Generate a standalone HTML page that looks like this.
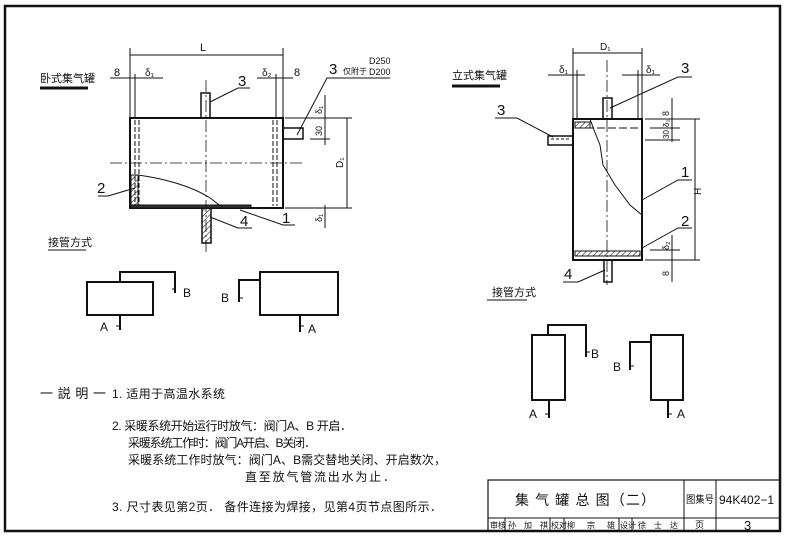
<!DOCTYPE html>
<html><head><meta charset="utf-8"><style>
html,body{margin:0;padding:0;background:#fff;}
svg{display:block;}
text{font-family:"Liberation Sans","Noto Sans CJK SC",sans-serif;fill:#111;}
</style></head><body>
<svg width="786" height="537" viewBox="0 0 786 537" xmlns="http://www.w3.org/2000/svg">
<defs>
<pattern id="h" width="4" height="4" patternUnits="userSpaceOnUse" patternTransform="rotate(45)"><line x1="0" y1="0" x2="0" y2="4" stroke="#222" stroke-width="1.2"/></pattern>
</defs>
<path d="M5 531 V6 H780 V531 Z" fill="none" stroke="#111" stroke-width="2.5"/>

<g stroke="#111" fill="none" stroke-width="1">
<line x1="130" y1="55" x2="283" y2="55"/>
<line x1="130" y1="48" x2="130" y2="118"/><line x1="283" y1="48" x2="283" y2="118"/>
<line x1="110" y1="78" x2="163" y2="78"/><line x1="257" y1="78" x2="293" y2="78"/>
<line x1="135" y1="74" x2="135" y2="118"/><line x1="276" y1="74" x2="276" y2="118"/>
<line x1="135" y1="120" x2="135" y2="206" stroke-dasharray="5,2"/><line x1="139" y1="120" x2="139" y2="206" stroke-dasharray="5,2"/>
<line x1="273" y1="120" x2="273" y2="206" stroke-dasharray="5,2"/><line x1="277" y1="120" x2="277" y2="206" stroke-dasharray="5,2"/>
<rect x="130" y="118" width="153" height="90" stroke-width="2"/>
<rect x="201" y="93" width="9" height="25" stroke-width="1.5"/>
<rect x="202" y="208" width="9" height="35" stroke-width="1.5" fill="url(#h)"/>
<rect x="283" y="128" width="20" height="11" stroke-width="1.5"/>
<rect x="131" y="175" width="7" height="33" fill="url(#h)"/>
<rect x="131" y="205" width="120" height="3" fill="#333"/>
<path d="M138 175 C160 178 190 185 210 198 C216 202 218 205 222 206"/>
<line x1="110" y1="163" x2="305" y2="163" stroke-dasharray="12,3,2,3" stroke-width="0.8"/>
<line x1="206" y1="80" x2="206" y2="255" stroke-dasharray="12,3,2,3" stroke-width="0.8"/>
<line x1="285" y1="118" x2="352" y2="118"/><line x1="285" y1="208" x2="352" y2="208"/>
<line x1="347" y1="118" x2="347" y2="208"/>
<line x1="325" y1="95" x2="325" y2="145"/><line x1="310" y1="139" x2="330" y2="139"/>
<line x1="325" y1="205" x2="325" y2="228"/>
<path d="M297 135 L327 78 H390"/>
<path d="M210 102 L238 88 H250"/>
<path d="M135 188 L108 196 H98"/>
<path d="M210 217 L238 228 H252"/>
<path d="M240 210 L283 225 H295"/>
<line x1="40" y1="88" x2="88" y2="88" stroke-width="3"/>
<line x1="48" y1="250" x2="86" y2="250" stroke-width="1"/>

<g stroke-width="2">
<rect x="87" y="282" width="66" height="33"/>
<path d="M120 282 V272 H175 V293"/>
<path d="M120 315 V330"/>
<rect x="260" y="272" width="78" height="43"/>
<path d="M260 280 H239 V302"/>
<path d="M300 315 V332"/>
</g>
<line x1="172" y1="289" x2="176" y2="289"/>
<line x1="116" y1="326" x2="120" y2="326"/>
<line x1="239" y1="298" x2="243" y2="298"/>
<line x1="300" y1="326" x2="304" y2="326"/>

<line x1="573" y1="53" x2="642" y2="53"/>
<line x1="573" y1="48" x2="573" y2="119"/><line x1="642" y1="48" x2="642" y2="119"/>
<line x1="548" y1="75" x2="585" y2="75"/><line x1="622" y1="75" x2="660" y2="75"/>
<line x1="577" y1="70" x2="577" y2="119"/><line x1="638" y1="70" x2="638" y2="119"/>
<rect x="573" y="119" width="69" height="141" stroke-width="2"/>
<rect x="603" y="98" width="9" height="21" stroke-width="1.5"/>
<rect x="604" y="260" width="8" height="22" stroke-width="1.5"/>
<rect x="548" y="136" width="25" height="9" stroke-width="1.5"/>
<line x1="551" y1="139" x2="571" y2="139" stroke-dasharray="3,2"/>
<rect x="575" y="122" width="15" height="6" fill="url(#h)"/>
<rect x="575" y="251" width="65" height="5" fill="url(#h)"/>
<line x1="575" y1="128" x2="640" y2="128" stroke-dasharray="8,3"/>
<path d="M590 119 L594 130 L600 145 L603 165 L615 185 L630 205 L642 215"/>
<line x1="607" y1="60" x2="607" y2="285" stroke-dasharray="12,3,2,3" stroke-width="0.8"/>
<line x1="645" y1="119" x2="700" y2="119"/><line x1="645" y1="260" x2="700" y2="260"/>
<line x1="650" y1="128" x2="680" y2="128"/><line x1="645" y1="140" x2="680" y2="140"/>
<line x1="650" y1="250" x2="680" y2="250"/>
<line x1="695" y1="119" x2="695" y2="260"/>
<line x1="672" y1="98" x2="672" y2="142"/><line x1="672" y1="235" x2="672" y2="282"/>
<path d="M610 108 L678 77 H692"/>
<path d="M553 137 L517 118 H495"/>
<path d="M642 200 L678 180 H692"/>
<path d="M642 248 L678 228 H692"/>
<path d="M605 270 L578 282 H563"/>
<line x1="452" y1="86" x2="500" y2="86" stroke-width="3"/>
<line x1="487" y1="300" x2="527" y2="300" stroke-width="1"/>

<g stroke-width="2">
<rect x="532" y="335" width="33" height="65"/>
<path d="M548 335 V325 H586 V357"/>
<path d="M549 400 V418"/>
<rect x="651" y="335" width="32" height="65"/>
<path d="M651 342 H630 V370"/>
<path d="M668 400 V418"/>
</g>
<line x1="586" y1="352" x2="590" y2="352"/>
<line x1="545" y1="414" x2="549" y2="414"/>
<line x1="630" y1="366" x2="634" y2="366"/>
<line x1="668" y1="414" x2="672" y2="414"/>

<rect x="488" y="480" width="292" height="51" stroke-width="1.2"/>
<line x1="488" y1="518" x2="780" y2="518"/>
<line x1="684" y1="480" x2="684" y2="531"/>
<line x1="716" y1="480" x2="716" y2="531"/>
<line x1="505" y1="518" x2="505" y2="531"/><line x1="550" y1="518" x2="550" y2="531"/>
<line x1="564" y1="518" x2="564" y2="531"/><line x1="619" y1="518" x2="619" y2="531"/>
<line x1="632" y1="518" x2="632" y2="531"/>
</g>

<g font-size="12">
<text x="200" y="51" font-size="11">L</text>
<text x="114" y="76" font-size="11">8</text>
<text x="145" y="76" font-size="10">δ₁</text>
<text x="262" y="76" font-size="10">δ₂</text>
<text x="294" y="76" font-size="11">8</text>
<text x="329" y="74" font-size="15">3</text>
<text x="343" y="74" font-size="8">仅附于</text>
<text x="369" y="64" font-size="9">D250</text>
<text x="369" y="75" font-size="9">D200</text>
<text x="40" y="82" font-size="11">卧式集气罐</text>
<text x="238" y="86" font-size="15">3</text>
<text x="97" y="193" font-size="15">2</text>
<text x="240" y="226" font-size="15">4</text>
<text x="282" y="223" font-size="15">1</text>
<text x="48" y="246" font-size="11">接管方式</text>
<text x="0" y="0" font-size="10" transform="translate(343,168) rotate(-90)">D₁</text>
<text x="0" y="0" font-size="9" transform="translate(322,114) rotate(-90)">δ₁</text>
<text x="0" y="0" font-size="9" transform="translate(322,136) rotate(-90)">30</text>
<text x="0" y="0" font-size="9" transform="translate(322,222) rotate(-90)">δ₁</text>
<text x="183" y="297">B</text>
<text x="221" y="302">B</text>
<text x="100" y="331">A</text>
<text x="308" y="333">A</text>

<text x="452" y="79" font-size="11">立式集气罐</text>
<text x="600" y="50" font-size="10">D₁</text>
<text x="559" y="73" font-size="10">δ₁</text>
<text x="646" y="73" font-size="10">δ₁</text>
<text x="681" y="73" font-size="15">3</text>
<text x="497" y="115" font-size="15">3</text>
<text x="681" y="177" font-size="15">1</text>
<text x="681" y="226" font-size="15">2</text>
<text x="564" y="279" font-size="15">4</text>
<text x="492" y="296" font-size="11">接管方式</text>
<text x="0" y="0" font-size="10" transform="translate(701,195) rotate(-90)">H</text>
<text x="0" y="0" font-size="9" transform="translate(669,116) rotate(-90)">8</text>
<text x="0" y="0" font-size="8" transform="translate(669,127) rotate(-90)">δ₂</text>
<text x="0" y="0" font-size="8" transform="translate(669,139) rotate(-90)">30</text>
<text x="0" y="0" font-size="9" transform="translate(669,250) rotate(-90)">δ₂</text>
<text x="0" y="0" font-size="9" transform="translate(669,276) rotate(-90)">8</text>
<text x="591" y="358">B</text>
<text x="613" y="371">B</text>
<text x="529" y="418">A</text>
<text x="677" y="418">A</text>

<text x="40" y="398" font-size="13" textLength="66" lengthAdjust="spacing">一 説 明 一</text>
<text x="112" y="398" textLength="113" lengthAdjust="spacing">1. 适用于高温水系统</text>
<text x="112" y="430" textLength="240" lengthAdjust="spacing">2. 采暖系统开始运行时放气：阀门A、B 开启．</text>
<text x="128" y="447" textLength="188" lengthAdjust="spacing">采暖系统工作时：阀门A开启、B关闭．</text>
<text x="128" y="464" textLength="318" lengthAdjust="spacing">采暖系统工作时放气：阀门A、B需交替地关闭、开启数次，</text>
<text x="245" y="481" textLength="150" lengthAdjust="spacing">直至放气管流出水为止．</text>
<text x="112" y="511" textLength="330" lengthAdjust="spacing">3. 尺寸表见第2页．  备件连接为焊接，见第4页节点图所示．</text>

<text x="515" y="505" font-size="14" textLength="140" lengthAdjust="spacing">集 气 罐 总 图（二）</text>
<text x="686" y="503" font-size="10" textLength="28" lengthAdjust="spacingAndGlyphs">图集号</text>
<text x="719" y="504" font-size="12">94K402−1</text>
<text x="490" y="528" font-size="8">审核</text>
<text x="508" y="528" font-size="8" textLength="40" lengthAdjust="spacing">孙加祺</text>
<text x="551" y="528" font-size="8">校对</text>
<text x="567" y="528" font-size="8" textLength="48" lengthAdjust="spacing">柳宗雄</text>
<text x="620" y="528" font-size="8">设计</text>
<text x="638" y="528" font-size="8" textLength="40" lengthAdjust="spacing">徐士达</text>
<text x="695" y="528" font-size="9">页</text>
<text x="744" y="530" font-size="13">3</text>
</g>
</svg>
</body></html>
